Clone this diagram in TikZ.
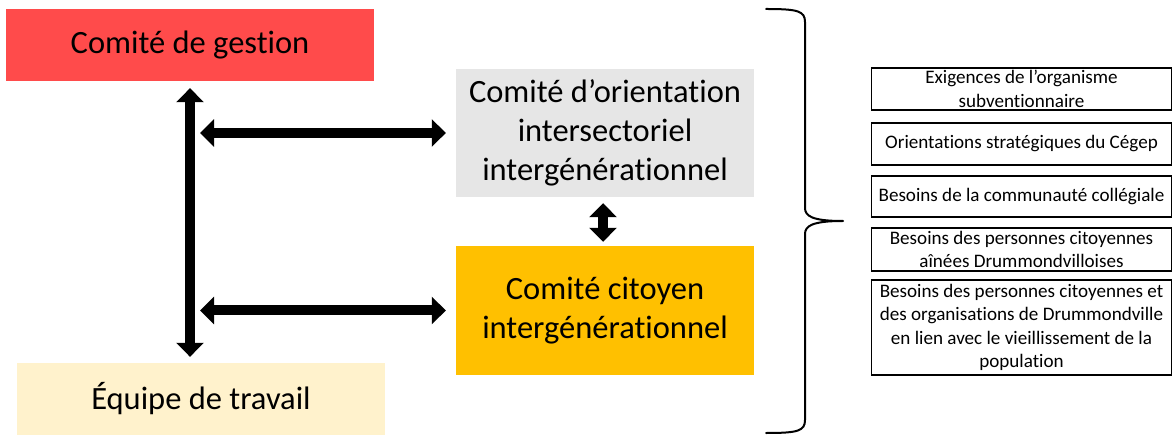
\documentclass[tikz,border=0pt]{standalone}
\usepackage{fontspec}
\setmainfont[Ligatures=NoCommon]{Carlito}
\usetikzlibrary{arrows.meta,calc}
\definecolor{cred}{HTML}{FF4B4B}
\definecolor{cgray}{HTML}{E6E6E6}
\definecolor{corange}{HTML}{FFC000}
\definecolor{cyellow}{HTML}{FFF2CC}
\tikzset{
  bigbox/.style={inner sep=0pt, align=center, font=\fontsize{32.5}{39}\selectfont},
  smallbox/.style={draw=black, line width=1.5pt, inner sep=0pt, align=center,
     minimum width=300pt, font=\fontsize{19.1}{23.5}\selectfont},
  blockarrow/.style={line width=10pt, {Triangle[width=27pt,length=14pt]}-{Triangle[width=27pt,length=14pt]}},
  brace/.style={line width=2pt, line cap=round, line join=round}
}
\begin{document}
\begin{tikzpicture}[x=1pt,y=-1pt]
\useasboundingbox (0,0) rectangle (1172,435);
\node[bigbox, fill=cred, minimum width=368pt, minimum height=72pt] (gestion) at (190,45) {Comité de gestion};
\node[bigbox, fill=cgray, minimum width=298pt, minimum height=128pt] (orient) at (605,133) {Comité d’orientation\\intersectoriel\\intergénérationnel};
\node[bigbox, fill=corange, minimum width=298pt, minimum height=129pt] (citoyen) at (605,310.5) {Comité citoyen\\intergénérationnel};
\node[bigbox, fill=cyellow, minimum width=368pt, minimum height=72pt] (equipe) at (201,399) {Équipe de travail};

\coordinate (hx) at (200,0);
\draw[blockarrow] ($(gestion.south)+(0,7)$) -- ($(gestion.south |- equipe.north)+(0,-6)$);
\draw[blockarrow] (hx |- orient.west) -- ($(orient.west)+(-10,0)$);
\draw[blockarrow] (hx |- citoyen.west) -- ($(citoyen.west)+(-10,0)$);
\draw[blockarrow] ($(orient.south)+(-2,6)$) -- ($(citoyen.north)+(-2,-4)$);

\coordinate (btop) at (766,9);
\coordinate (btip) at (843,221);
\coordinate (bbot) at (766,433);
\draw[brace] (btop) .. controls (798,9) and (805,11) .. (805,22) -- (805,208)
  .. controls (805,216) and (812,221) .. (btip)
  .. controls (812,221) and (805,226) .. (805,234) -- (805,420)
  .. controls (805,431) and (798,433) .. (bbot);

\node[smallbox, minimum height=42pt] (r1) at (1021.5,89) {Exigences de l’organisme\\subventionnaire};
\node[smallbox, minimum height=42pt] (r2) at (1021.5,144) {Orientations stratégiques du Cégep};
\node[smallbox, minimum height=41pt] (r3) at (1021.5,196.5) {Besoins de la communauté collégiale};
\node[smallbox, minimum height=43pt] (r4) at (1021.5,249.5) {Besoins des personnes citoyennes\\aînées Drummondvilloises};
\node[smallbox, minimum height=95pt] (r5) at (1021.5,327.5) {Besoins des personnes citoyennes et\\des organisations de Drummondville\\en lien avec le vieillissement de la\\population};
\end{tikzpicture}
\end{document}
